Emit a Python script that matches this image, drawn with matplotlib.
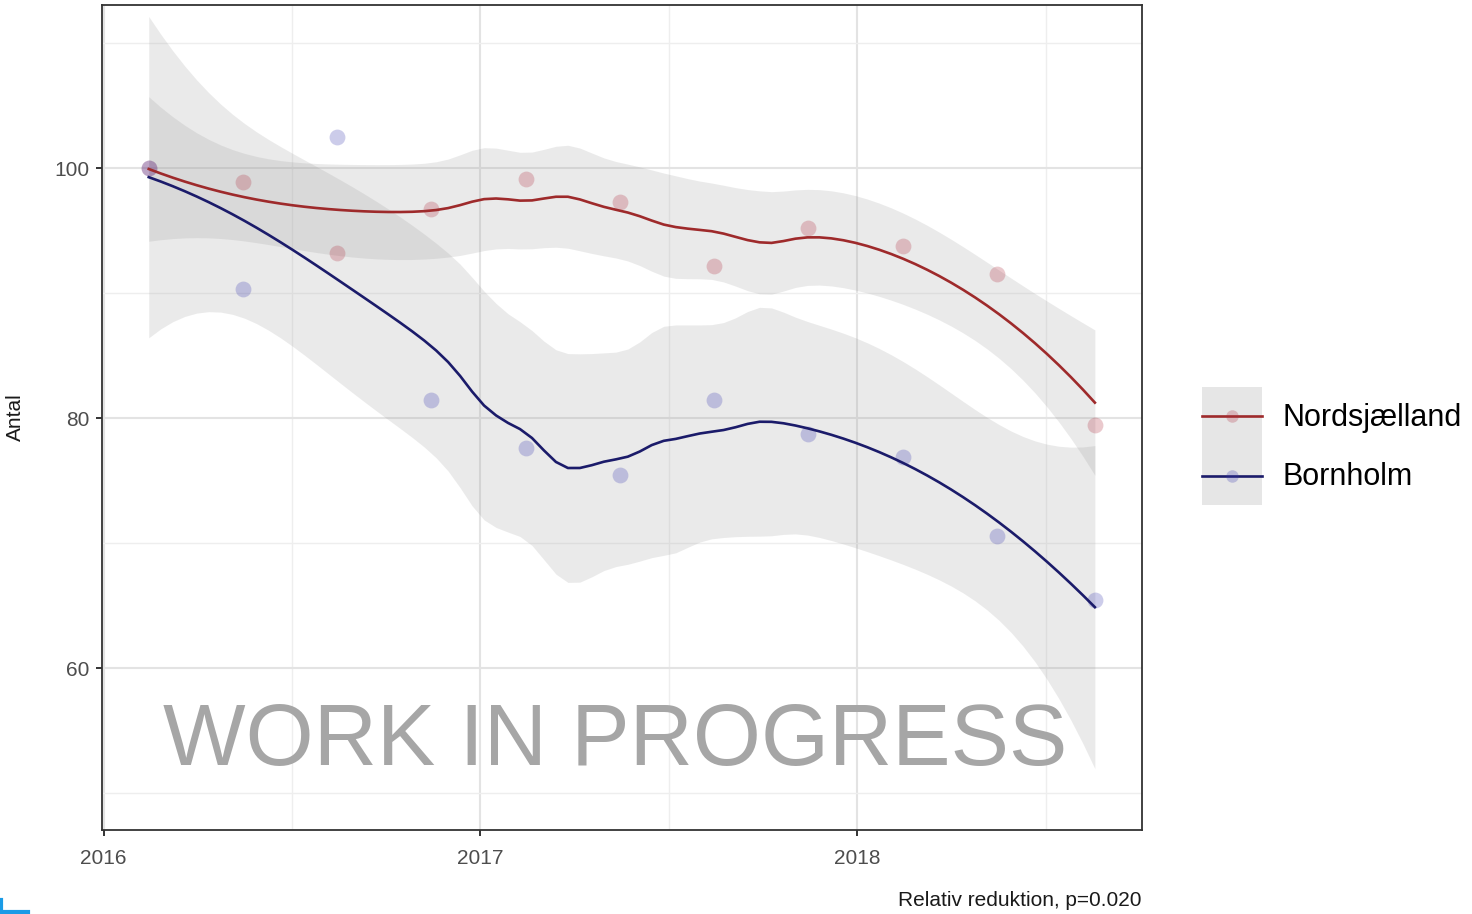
import math
import numpy as np
import matplotlib
matplotlib.use("Agg")
import matplotlib.pyplot as plt
from matplotlib.lines import Line2D
from matplotlib.patches import Patch
from matplotlib.legend_handler import HandlerLine2D

plt.rcParams['font.family'] = ['Liberation Sans', 'DejaVu Sans']

# quarterly measurements (decimal year), indexed to 100 at the first quarter
dates = np.array([2016.12, 2016.37, 2016.62, 2016.87, 2017.12, 2017.37,
                  2017.62, 2017.87, 2018.12, 2018.37, 2018.63])
nordsjaelland = np.array([100.0, 98.9, 93.2, 96.7, 99.1, 97.3, 92.2, 95.2, 93.8, 91.5, 79.4])
bornholm = np.array([100.0, 90.3, 102.5, 81.4, 77.6, 75.4, 81.4, 78.7, 76.9, 70.6, 65.4])

regions = ["Nordsjælland", "Bornholm"]
line_colors = ["#9e2a2b", "#1b1b6a"]
point_colors = ["#b03040", "#3a3ab0"]

x_ticks = [2016, 2017, 2018]
y_ticks = [60, 80, 100]
caption = "Relativ reduktion, p=0.020"
watermark = "WORK IN PROGRESS"


def loess_matrix(x, xg, span=0.75):
    # local quadratic fit with tricube weights (same idea as R's loess)
    n = len(x)
    q = int(math.floor(n * span))
    L = np.zeros((len(xg), n))
    for k, x0 in enumerate(xg):
        d = np.abs(x - x0)
        h = np.sort(d)[q - 1]
        u = np.clip(d / h, 0, 1)
        w = (1 - u ** 3) ** 3
        B = np.vstack([np.ones(n), x - x0, (x - x0) ** 2]).T
        BtW = B.T * w
        L[k] = np.linalg.solve(BtW @ B, BtW)[0]
    return L


def t_quantile(p, df):
    c = math.exp(math.lgamma((df + 1) / 2) - math.lgamma(df / 2)) / math.sqrt(df * math.pi)
    t = np.linspace(0, 60, 200001)
    pdf = c * (1 + t ** 2 / df) ** (-(df + 1) / 2)
    cdf = 0.5 + np.concatenate([[0], np.cumsum((pdf[1:] + pdf[:-1]) / 2 * np.diff(t))])
    return np.interp(p, cdf, t)


def smooth(x, y, n_out=80):
    xg = np.linspace(x.min(), x.max(), n_out)
    Lg = loess_matrix(x, xg)
    Lx = loess_matrix(x, x)
    R = np.eye(len(x)) - Lx
    RR = R.T @ R
    d1 = np.trace(RR)
    d2 = np.trace(RR @ RR)
    res = y - Lx @ y
    sigma = math.sqrt(np.sum(res ** 2) / d1)
    se = sigma * np.sqrt(np.sum(Lg ** 2, axis=1))
    tq = t_quantile(0.975, d1 ** 2 / d2)
    fit = Lg @ y
    return xg, fit, fit - tq * se, fit + tq * se


class CenteredLine(HandlerLine2D):
    # put the key line in the middle of the grey key box
    def create_artists(self, legend, orig_handle, xdescent, ydescent, width, height, fontsize, trans):
        arts = super().create_artists(legend, orig_handle, xdescent, ydescent,
                                      width, height, fontsize, trans)
        for a in arts:
            a.set_ydata(np.asarray(a.get_ydata()) - ydescent / 2)
        return arts


fig = plt.figure(figsize=(14.72, 9.14), dpi=100)
ax = fig.add_axes([102 / 1472, 1 - 830 / 914, 1040 / 1472, 825 / 914])

series = [nordsjaelland, bornholm]
fits = [smooth(dates, vals) for vals in series]
for xg, fit, lo, hi in fits:
    ax.fill_between(xg, lo, hi, color="#999999", alpha=0.2, linewidth=0, zorder=2)
for vals, pc in zip(series, point_colors):
    ax.scatter(dates, vals, s=130, color=pc, alpha=0.26, linewidths=0, zorder=3)
for (xg, fit, lo, hi), lc in zip(fits, line_colors):
    ax.plot(xg, fit, color=lc, linewidth=1.9, zorder=4)

ax.set_xlim(2015.996, 2018.755)
ax.set_ylim(47.04, 113.04)
ax.set_xticks(x_ticks)
ax.set_xticklabels([str(v) for v in x_ticks])
ax.set_yticks(y_ticks)
ax.set_xticks([2016.5, 2017.5, 2018.5], minor=True)
ax.set_yticks([50, 70, 90, 110], minor=True)
ax.grid(which="major", color="#e3e3e3", linewidth=1.5, zorder=0)
ax.grid(which="minor", color="#eeeeee", linewidth=1.0, zorder=0)
ax.set_axisbelow(True)
for s in ax.spines.values():
    s.set_color("#333333")
    s.set_linewidth(1.3)
ax.tick_params(which="major", length=4.5, width=1.4, color="#333333",
               labelsize=15, labelcolor="#4d4d4d")
ax.tick_params(axis="x", which="major", pad=9.5)
ax.tick_params(axis="y", which="major", pad=4.5)
ax.tick_params(which="minor", length=0)
ax.set_ylabel("Antal", fontsize=15, color="#1a1a1a")
ax.yaxis.set_label_coords(-77 / 1040, 0.5)

ax.text(0.493, 0.079, watermark, transform=ax.transAxes, ha="center", va="baseline",
        fontsize=63, color="#a6a6a6", zorder=10)

handles = []
for lc, pc in zip(line_colors, point_colors):
    handles.append((Patch(facecolor="#e6e6e6", edgecolor="none"),
                    Line2D([], [], color=lc, linewidth=1.9),
                    Line2D([], [], linestyle="none", marker="o", markersize=9,
                           color=pc, alpha=0.26, markeredgewidth=0)))
fig.legend(handles, regions, loc="center left", bbox_to_anchor=(1202 / 1472, 1 - 446 / 914),
           bbox_transform=fig.transFigure, frameon=False, fontsize=22, borderpad=0,
           borderaxespad=0, handlelength=1.96, handleheight=2.6, labelspacing=0,
           handletextpad=0.68, handler_map={Line2D: CenteredLine()})

fig.text(1142 / 1472, 1 - 906 / 914, caption, ha="right", va="baseline",
         fontsize=15, color="#1a1a1a")

# small blue mark in the lower left corner of the image
fig.add_artist(Line2D([0.0, 28 / 1472], [0.002, 0.002], color="#1a9be6", linewidth=3,
                      transform=fig.transFigure))
fig.add_artist(Line2D([0.001, 0.001], [0.0, 14 / 914], color="#1a9be6", linewidth=3,
                      transform=fig.transFigure))

fig.savefig("out.png", dpi=100)
